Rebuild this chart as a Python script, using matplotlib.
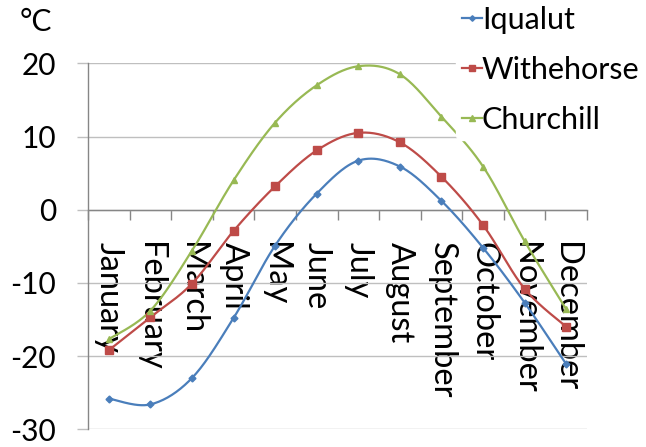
import numpy as np
import matplotlib
matplotlib.use("Agg")
import matplotlib.pyplot as plt
from matplotlib.lines import Line2D

plt.rcParams['font.family'] = ['Lato', 'DejaVu Sans']
plt.rcParams['axes.unicode_minus'] = False

months = ["January", "February", "March", "April", "May", "June", "July",
          "August", "September", "October", "November", "December"]
iqualut = [-25.8, -26.6, -23.0, -14.8, -4.9, 2.2, 6.7, 5.9, 1.2, -5.2, -12.7, -21.1]
withehorse = [-19.2, -14.7, -10.1, -2.9, 3.2, 8.1, 10.5, 9.2, 4.5, -2.1, -10.8, -16.0]
churchill = [-17.7, -13.8, -5.6, 4.0, 11.9, 17.0, 19.6, 18.5, 12.7, 5.9, -4.3, -13.6]
series_names = ["Iqualut", "Withehorse", "Churchill"]
yticks = [-30, -20, -10, 0, 10, 20]
unit_label = "°C"

colors = ["#4A7EBB", "#BE4B48", "#98B954"]
markers = ["D", "s", "^"]
msizes = [3.5, 5.5, 5]


def smooth(x, y, n=30):
    """Excel-like smoothing: Catmull-Rom bezier through the points."""
    x = np.asarray(x, float)
    y = np.asarray(y, float)
    px = np.concatenate([[x[0]], x, [x[-1]]])
    py = np.concatenate([[y[0]], y, [y[-1]]])
    xs, ys = [], []
    t = np.linspace(0, 1, n)
    for i in range(1, len(px) - 2):
        p0 = np.array([px[i], py[i]])
        p3 = np.array([px[i + 1], py[i + 1]])
        c1 = p0 + (np.array([px[i + 1], py[i + 1]]) - np.array([px[i - 1], py[i - 1]])) / 6
        c2 = p3 - (np.array([px[i + 2], py[i + 2]]) - np.array([px[i], py[i]])) / 6
        b = ((1 - t) ** 3)[:, None] * p0 + (3 * (1 - t) ** 2 * t)[:, None] * c1 + \
            (3 * (1 - t) * t ** 2)[:, None] * c2 + (t ** 3)[:, None] * p3
        xs.append(b[:, 0])
        ys.append(b[:, 1])
    return np.concatenate(xs), np.concatenate(ys)


fig = plt.figure(figsize=(6.46, 4.47), dpi=100)
ax = fig.add_axes([88 / 646, (447 - 429.3) / 447, (587 - 88) / 646, (429.3 - 63.3) / 447])

xpos = np.arange(len(months)) + 0.5
for vals, c, m, ms in zip([iqualut, withehorse, churchill], colors, markers, msizes):
    sx, sy = smooth(xpos, vals)
    ax.plot(sx, sy, color=c, lw=1.6, zorder=3, solid_capstyle='round')
    ax.plot(xpos, vals, linestyle='none', marker=m, ms=ms, color=c, zorder=4)

ax.set_xlim(0, 12)
ax.set_ylim(-30, 20)
ax.set_yticks(yticks)
ax.set_yticklabels([str(v) for v in yticks])
ax.grid(axis='y', color='#BFBFBF', lw=1.0, zorder=0)

for s in ['top', 'right']:
    ax.spines[s].set_visible(False)
ax.spines['bottom'].set_position(('data', 0))
ax.spines['bottom'].set_color('#868686')
ax.spines['left'].set_color('#868686')
ax.spines['bottom'].set_linewidth(1.0)
ax.spines['left'].set_linewidth(1.0)

ax.set_xticks(np.arange(0, 13))
ax.set_xticklabels([])
ax.set_xticks(xpos, minor=True)
ax.set_xticklabels(months, minor=True, rotation=270, va='top', ha='center')
ax.tick_params(axis='x', which='major', direction='out', length=7.5, color='#868686', width=1.0)
ax.tick_params(axis='x', which='minor', length=0, pad=23, labelsize=23.5)
ax.tick_params(axis='y', direction='out', length=8, color='#BFBFBF', width=1.0,
               pad=15, labelsize=21.5)

fig.text(36 / 646, 1 - 22 / 447, unit_label, fontsize=21.5, ha='center', va='center')

handles = [Line2D([], [], color=c, marker=m, ms=ms * 0.8, lw=1.6)
           for c, m, ms in zip(colors, markers, msizes)]
leg = fig.legend(handles, series_names, loc='upper left',
                 bbox_to_anchor=(456 / 646, 1.0), fontsize=22, frameon=True,
                 handlelength=0.65, handletextpad=0.0, labelspacing=0.72,
                 borderaxespad=0, borderpad=0.2)
leg.get_frame().set_facecolor('white')
leg.get_frame().set_edgecolor('white')
leg.get_frame().set_alpha(1)
leg.set_zorder(10)

fig.savefig("out.png", dpi=100)
